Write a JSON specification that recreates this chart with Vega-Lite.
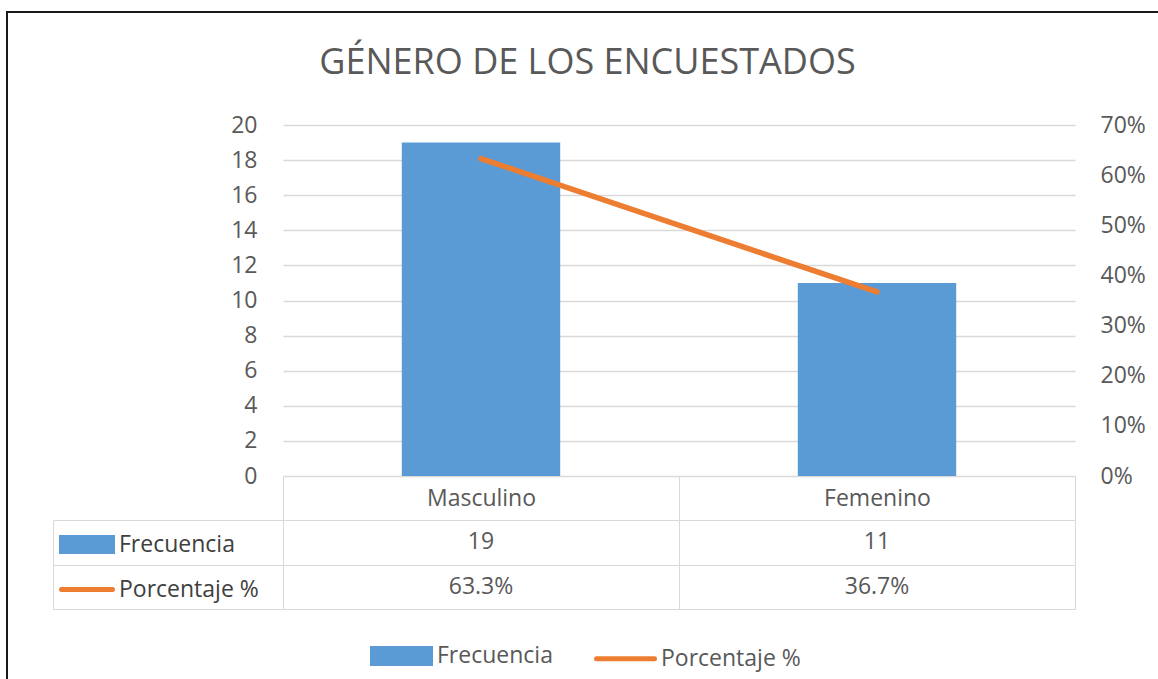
{
  "$schema": "https://vega.github.io/schema/vega-lite/v6.json",
  "background": "white",
  "padding": {"left": 6, "top": 11, "right": 0, "bottom": 0},
  "config": {
    "font": "Open Sans",
    "view": {"stroke": null},
    "text": {"font": "Open Sans"}
  },
  "title": {
    "text": "GÉNERO DE LOS ENCUESTADOS",
    "fontSize": 36,
    "font": "Open Sans",
    "fontWeight": "normal",
    "color": "#595959",
    "anchor": "middle",
    "dx": 2,
    "offset": -71
  },
  "data": {
    "values": [
      {"genero": "Masculino", "frecuencia": 19, "porcentaje": 0.633},
      {"genero": "Femenino", "frecuencia": 11, "porcentaje": 0.367}
    ]
  },
  "spacing": 44,
  "bounds": "flush",
  "resolve": {
    "scale": {"color": "independent", "x": "independent", "y": "independent"},
    "legend": {"color": "independent"}
  },
  "vconcat": [
    {
      "width": 792,
      "height": 351,
      "encoding": {
        "x": {
          "field": "genero",
          "type": "nominal",
          "sort": null,
          "scale": {"type": "band", "paddingInner": 0.6, "paddingOuter": 0.3},
          "axis": null
        }
      },
      "layer": [
        {
          "mark": {"type": "bar"},
          "encoding": {
            "y": {
              "field": "frecuencia",
              "type": "quantitative",
              "scale": {"domain": [0, 20]},
              "axis": {
                "values": [0, 2, 4, 6, 8, 10, 12, 14, 16, 18, 20],
                "title": null,
                "domain": false,
                "ticks": false,
                "grid": true,
                "gridColor": "#d9d9d9",
                "gridWidth": 1.3,
                "labelPadding": 26,
                "labelFontSize": 23,
                "labelColor": "#595959"
              }
            },
            "color": {
              "datum": "Frecuencia",
              "type": "nominal",
              "scale": {"domain": ["Frecuencia", "Porcentaje %"], "range": ["#5B9BD5", "#ED7D31"]},
              "legend": {
                "orient": "none",
                "legendX": -276,
                "legendY": -113,
                "direction": "horizontal",
                "title": "\u00a0",
                "titleOrient": "top",
                "titleFontSize": 1,
                "titlePadding": 248,
                "padding": 363,
                "strokeColor": "#1a1a1a",
                "symbolSize": 3364,
                "symbolStrokeWidth": 0,
                "labelFontSize": 23,
                "labelFont": "Open Sans",
                "labelColor": "#595959",
                "labelOffset": 4,
                "columnPadding": 33,
                "labelLimit": 300,
                "encode": {
                  "legend": {
                    "update": {
                      "strokeWidth": {"value": 2}
                    }
                  },
                  "symbols": {
                    "update": {
                      "shape": {"signal": "datum.value === 'Frecuencia' ? 'M-1,-0.26H1V0.26H-1Z' : 'stroke'"},
                      "stroke": {"signal": "datum.value === 'Frecuencia' ? 'transparent' : '#ED7D31'"},
                      "strokeWidth": {"value": 5},
                      "strokeCap": {"value": "round"},
                      "opacity": {"value": 1}
                    }
                  }
                }
              }
            }
          }
        },
        {
          "mark": {"type": "line", "strokeWidth": 5.5, "strokeCap": "round"},
          "encoding": {
            "y": {
              "field": "porcentaje",
              "type": "quantitative",
              "scale": {"domain": [0, 0.7]},
              "axis": {
                "orient": "right",
                "values": [0, 0.1, 0.2, 0.3, 0.4, 0.5, 0.6, 0.7],
                "format": ".0%",
                "title": null,
                "domain": false,
                "ticks": false,
                "grid": false,
                "labelPadding": 25,
                "labelFontSize": 23,
                "labelColor": "#595959"
              }
            },
            "color": {"datum": "Porcentaje %", "type": "nominal"}
          }
        }
      ],
      "resolve": {"scale": {"y": "independent"}}
    },
    {
      "width": 792,
      "height": 89,
      "view": {"stroke": "#d9d9d9"},
      "layer": [
        {
          "mark": {"type": "text", "fontSize": 23, "font": "Open Sans", "color": "#595959"},
          "encoding": {
            "x": {
              "field": "genero",
              "type": "nominal",
              "sort": null,
              "scale": {"type": "band", "paddingInner": 0, "paddingOuter": 0},
              "axis": {
                "orient": "top",
                "title": null,
                "domain": false,
                "ticks": true,
                "tickBand": "extent",
                "tickSize": 44,
                "tickColor": "#d9d9d9",
                "grid": true,
                "gridColor": "#d9d9d9",
                "labelFontSize": 23,
                "labelColor": "#595959",
                "labelBaseline": "middle",
                "labelPadding": -22,
                "labelAngle": 0
              }
            },
            "y": {
              "datum": "Frecuencia",
              "type": "nominal",
              "scale": {"type": "band", "domain": ["Frecuencia", "Porcentaje %"], "paddingInner": 0, "paddingOuter": 0},
              "axis": {
                "title": null,
                "offset": 230,
                "domain": true,
                "domainColor": "#d9d9d9",
                "ticks": true,
                "tickBand": "extent",
                "tickSize": -230,
                "tickColor": "#d9d9d9",
                "labels": false,
                "grid": true,
                "gridColor": "#d9d9d9"
              }
            },
            "text": {"field": "frecuencia", "type": "quantitative"}
          }
        },
        {
          "mark": {"type": "text", "fontSize": 23, "font": "Open Sans", "color": "#595959"},
          "encoding": {
            "x": {"field": "genero", "type": "nominal", "sort": null},
            "y": {"datum": "Porcentaje %", "type": "nominal"},
            "text": {"field": "porcentaje", "type": "quantitative", "format": ".1%"}
          }
        },
        {
          "mark": {"type": "rect", "opacity": 0},
          "encoding": {
            "y": {"datum": "Frecuencia", "type": "nominal"},
            "color": {
              "datum": "Frecuencia",
              "type": "nominal",
              "scale": {"domain": ["Frecuencia", "Porcentaje %"], "range": ["#5B9BD5", "#ED7D31"]},
              "legend": {
                "orient": "none",
                "legendX": -224,
                "legendY": -3.5,
                "direction": "vertical",
                "title": null,
                "padding": 0,
                "symbolSize": 2601,
                "symbolStrokeWidth": 0,
                "rowPadding": -8,
                "labelFontSize": 23,
                "labelFont": "Open Sans",
                "labelColor": "#404040",
                "labelOffset": 4,
                "labelLimit": 300,
                "encode": {
                  "symbols": {
                    "update": {
                      "shape": {"signal": "datum.value === 'Frecuencia' ? 'M-1,-0.27H1V0.27H-1Z' : 'stroke'"},
                      "stroke": {"signal": "datum.value === 'Frecuencia' ? 'transparent' : '#ED7D31'"},
                      "strokeWidth": {"value": 5},
                      "strokeCap": {"value": "round"},
                      "opacity": {"value": 1}
                    }
                  }
                }
              }
            }
          }
        },
        {
          "mark": {"type": "rule", "opacity": 0},
          "encoding": {
            "y": {"datum": "Porcentaje %", "type": "nominal"},
            "color": {"datum": "Porcentaje %", "type": "nominal"}
          }
        }
      ]
    }
  ]
}
